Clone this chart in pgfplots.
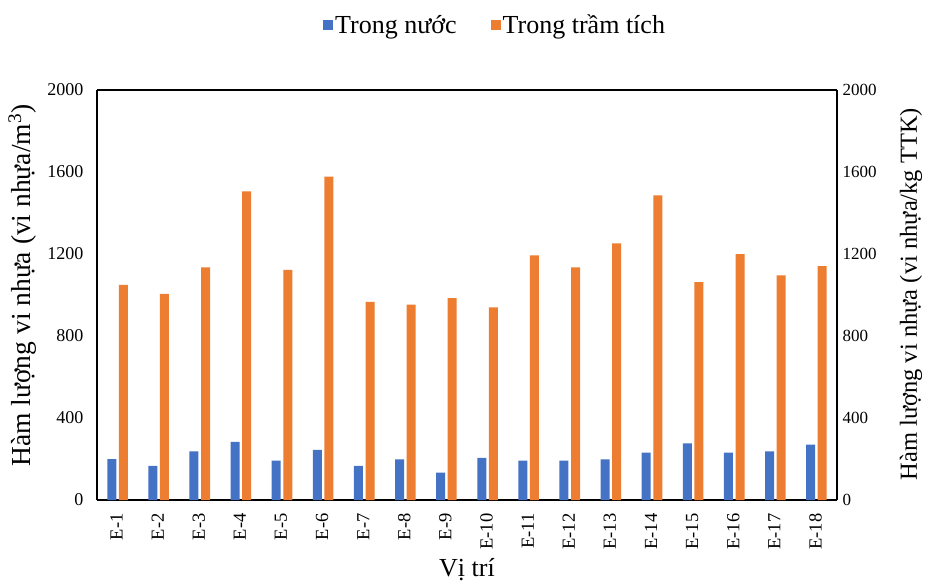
\documentclass[border=0pt]{standalone}
\usepackage{fontspec}
\setmainfont{Liberation Serif}
\usepackage{pgfplots}
\usepackage{pgfplotstable}
\pgfplotsset{compat=1.18}

\definecolor{nuoc}{HTML}{4472C4}
\definecolor{tramtich}{HTML}{ED7D31}

% Microplastic content per site: water (vi nhựa/m3), sediment (vi nhựa/kg TTK)
\pgfplotstableread{
idx water sed
0   200  1050
1   166  1005
2   237  1135
3   283  1506
4   192  1122
5   244  1577
6   166   966
7   198   953
8   133   985
9   205   940
10  192  1193
11  192  1135
12  198  1252
13  231  1486
14  276  1063
15  231  1200
16  237  1096
17  270  1141
}\datatable

\pgfplotsset{
  base/.style={
    scale only axis,
    width=740pt, height=410pt,
    xmin=-0.5, xmax=17.5,
    ymin=0, ymax=2000,
    ytick={0,400,...,2000},
    major tick length=0pt,
    axis line style={line width=1.4pt},
    tick label style={font=\fontsize{18}{20}\selectfont},
    /pgf/number format/assume math mode=true,
    /pgf/number format/1000 sep={},
    label style={font=\fontsize{26}{28}\selectfont},
    ybar,
    bar width=9pt,
  },
}

\begin{document}
\begin{tikzpicture}
\useasboundingbox (-97pt,-87pt) rectangle (830pt,500pt);

\begin{axis}[
  base,
  axis y line*=left,
  axis x line*=bottom,
  xtick=data,
  xticklabels={E-1,E-2,E-3,E-4,E-5,E-6,E-7,E-8,E-9,E-10,E-11,E-12,E-13,E-14,E-15,E-16,E-17,E-18},
  xticklabel style={rotate=90, anchor=east, xshift=-10pt, yshift=1pt, font=\fontsize{18.5}{21}\selectfont},
  xlabel={Vị trí},
  xlabel style={at={(axis description cs:0.5,-0.17)}, anchor=center},
  ylabel={Hàm lượng vi nhựa (vi nhựa/m\textsuperscript{3})},
  ylabel style={at={(axis description cs:-0.101,0.523)}, anchor=center, font=\fontsize{27.5}{29}\selectfont},
  yticklabel style={xshift=-10pt},
  legend style={
    at={(axis description cs:0.538,1.159)}, anchor=center,
    draw=none, fill=none,
    legend columns=2,
    font=\fontsize{26}{28}\selectfont,
    /tikz/every even column/.append style={column sep=32pt},
  },
  legend image code/.code={\fill[#1] (0pt,-5pt) rectangle (10pt,5pt);},
]
\addplot[fill=nuoc, draw=none, bar shift=-5.8pt] table[x=idx, y=water] {\datatable};
\addlegendentry{Trong nước}
\addlegendimage{fill=tramtich, draw=none}
\addlegendentry{Trong trầm tích}
\end{axis}

\begin{axis}[
  base,
  axis y line*=right,
  axis x line=none,
  ylabel={Hàm lượng vi nhựa (vi nhựa/kg TTK)},
  ylabel style={at={(axis description cs:1.1,0.502)}, anchor=center, font=\fontsize{24.5}{26}\selectfont},
  yticklabel style={xshift=2pt, font=\fontsize{17}{19}\selectfont},
]
\addplot[fill=tramtich, draw=none, bar shift=5.8pt] table[x=idx, y=sed] {\datatable};
\end{axis}

% top edge of the frame
\begin{axis}[
  base,
  axis x line*=top,
  axis y line=none,
  xtick=\empty,
]
\end{axis}
\end{tikzpicture}
\end{document}
